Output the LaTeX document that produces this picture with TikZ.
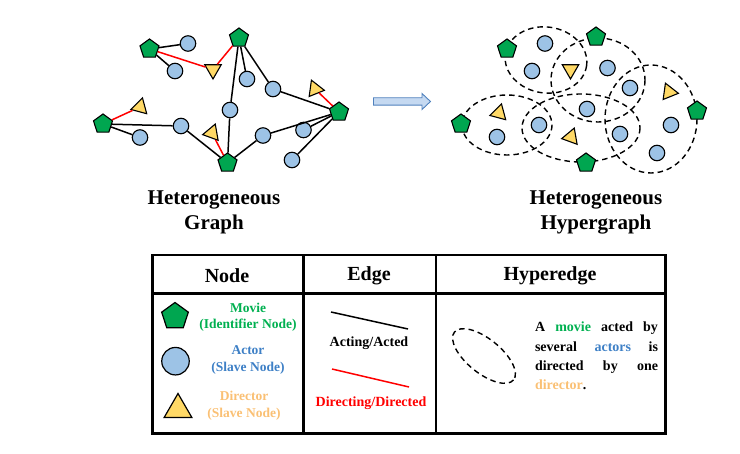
\documentclass[tikz,border=0pt]{standalone}
\usepackage{fontspec}
\setmainfont{Liberation Serif}
\usetikzlibrary{shapes.geometric}
\definecolor{mgreen}{RGB}{0,166,80}
\definecolor{tgreen}{RGB}{0,176,80}
\definecolor{cblue}{RGB}{157,195,230}
\definecolor{tblue}{RGB}{62,128,198}
\definecolor{tyel}{RGB}{255,217,102}
\definecolor{torange}{RGB}{250,192,116}
\definecolor{arrfill}{RGB}{197,217,241}
\definecolor{arrdraw}{RGB}{79,129,189}
\tikzset{
  movie/.style={regular polygon, regular polygon sides=5, draw=black, fill=mgreen, line width=1.1pt, minimum size=20pt, inner sep=0pt},
  actor/.style={circle, draw=black, fill=cblue, line width=1.1pt, minimum size=15.5pt, inner sep=0pt},
  director/.style={regular polygon, regular polygon sides=3, draw=black, fill=tyel, line width=1.1pt, minimum size=19pt, inner sep=0pt},
  acted/.style={draw=black, line width=1.5pt},
  directed/.style={draw=red, line width=1.5pt},
  hedge/.style={draw=black, dash pattern=on 5.5pt off 4pt, line width=1.4pt},
  ttl/.style={font=\bfseries\fontsize{21}{25}\selectfont, align=center},
  hdr/.style={font=\bfseries\fontsize{20}{24}\selectfont},
  lgd/.style={font=\bfseries\fontsize{13.5}{16.5}\selectfont, align=center},
  etxt/.style={font=\bfseries\fontsize{14}{17}\selectfont},
  tbl/.style={draw=black, line width=2.2pt},
}
\begin{document}
\begin{tikzpicture}[x=1pt,y=-1pt]
\useasboundingbox (0,0) rectangle (740,454);

% ---------------- Heterogeneous graph ----------------
\node[movie] (P1) at (149.5,49) {};
\node[actor] (C1) at (188,43.5) {};
\node[actor] (C2) at (175,71) {};
\node[director, rotate=180] (T1) at (213,69.5) {};
\node[movie] (P2) at (239,38) {};
\node[actor] (C3) at (247,79) {};
\node[actor] (C4) at (273,89) {};
\node[director, rotate=22] (T2) at (315,89) {};
\node[movie] (P3) at (339,112) {};
\node[actor] (C5) at (230,110) {};
\node[actor] (C6) at (181,126) {};
\node[director, rotate=-15] (T3) at (140,107) {};
\node[movie] (P4) at (103,124) {};
\node[actor] (C7) at (140,137.5) {};
\node[director, rotate=-20] (T4) at (212,133) {};
\node[movie] (P5) at (227.5,163) {};
\node[actor] (C8) at (263,135.5) {};
\node[actor] (C9) at (303.5,130) {};
\node[actor] (C10) at (292,160) {};

\draw[acted] (P1) -- (C1);
\draw[acted] (P1) -- (C2);
\draw[directed] (P1) -- (T1);
\draw[directed] (T1) -- (P2);
\draw[acted] (P2) -- (C3);
\draw[acted] (P2) -- (C4);
\draw[acted] (P2) -- (C5);
\draw[acted] (C4) -- (P3);
\draw[directed] (T2) -- (P3);
\draw[acted] (P3) -- (C8);
\draw[acted] (C8) -- (P5);
\draw[acted] (P3) -- (C9);
\draw[acted] (P3) -- (C10);
\draw[acted] (C5) -- (P5);
\draw[directed] (T4) -- (P5);
\draw[acted] (C6) -- (P5);
\draw[acted] (P4) -- (C6);
\draw[directed] (P4) -- (T3);
\draw[acted] (P4) -- (C7);

% ---------------- arrow ----------------
\draw[draw=arrdraw, fill=arrfill, line width=0.9pt]
  (373.5,97.8) -- (422,97.8) -- (422,93.5) -- (430.5,101.5) -- (422,109.5) -- (422,105.2) -- (373.5,105.2) -- cycle;

% ---------------- Heterogeneous hypergraph ----------------
\draw[hedge, rotate around={-8:(546,60)}] (546,60) ellipse [x radius=41, y radius=33];
\draw[hedge] (598,80) ellipse [x radius=47, y radius=42];
\draw[hedge] (651,119) ellipse [x radius=46, y radius=54];
\draw[hedge] (507,125) ellipse [x radius=45, y radius=30];
\draw[hedge] (581,128) ellipse [x radius=59, y radius=34];

\node[movie] (hP1) at (507,49) {};
\node[actor] (hC1) at (545,43.5) {};
\node[actor] (hC2) at (532,71) {};
\node[director, rotate=180] (hT1) at (570.5,69.5) {};
\node[movie] (hP2) at (596,37) {};
\node[actor] (hC3) at (607.5,68) {};
\node[actor] (hC4) at (630,88) {};
\node[director, rotate=22] (hT2) at (669,92) {};
\node[movie] (hP3) at (697,111) {};
\node[actor] (hC5) at (671,125) {};
\node[actor] (hC6) at (657,153) {};
\node[actor] (hC7) at (587,109) {};
\node[actor] (hC8) at (620,134) {};
\node[director, rotate=-20] (hT3) at (571,137) {};
\node[movie] (hP5) at (586,163) {};
\node[actor] (hC9) at (539,125) {};
\node[director, rotate=-15] (hT4) at (499,113) {};
\node[actor] (hC10) at (497,137) {};
\node[movie] (hP4) at (461,124) {};

% ---------------- titles ----------------
\node[ttl] (tl) at (214,212) {Heterogeneous\\Graph};
\node[ttl] (tr) at (596,212) {Heterogeneous\\Hypergraph};

% ---------------- table ----------------
\draw[tbl] (152.5,255) rectangle (665.5,433.5);
\draw[tbl] (152.5,293.5) -- (665.5,293.5);
\draw[tbl] (303.5,255) -- (303.5,433.5);
\draw[tbl] (436,255) -- (436,433.5);

\node[hdr] (hn) at (227,276) {Node};
\node[hdr] (he) at (369,276) {Edge};
\node[hdr] (hh) at (550,276) {Hyperedge};

\node[movie, minimum size=28pt, line width=1.2pt] (lP) at (175,316.5) {};
\node[actor, minimum size=27.5pt, line width=1.2pt] (lC) at (175.5,361.2) {};
\node[director, minimum size=32pt, line width=1.2pt] (lT) at (178,409.5) {};

\node[lgd, text=tgreen] (lPt) at (248,317.5) {Movie\\(Identifier Node)};
\node[lgd, text=tblue] (lCt) at (248,360) {Actor\\(Slave Node)};
\node[lgd, text=torange] (lTt) at (244,406) {Director\\(Slave Node)};

\coordinate (ea1) at (331,312);
\coordinate (ea2) at (408,329);
\draw[acted] (ea1) -- (ea2);
\node[etxt] (eat) at (369,343) {Acting/Acted};
\coordinate (ed1) at (332,369);
\coordinate (ed2) at (409,387);
\draw[directed] (ed1) -- (ed2);
\node[etxt, text=red] (edt) at (371,403) {Directing/Directed};

\draw[hedge, rotate around={-39:(484,356)}] (484,356) ellipse [x radius=38, y radius=17];

\node[font=\bfseries\fontsize{14}{19.3}\selectfont, align=left, inner sep=0pt] (htxt) at (596.5,356) {%
\makebox[123pt][s]{A \textcolor{tgreen}{movie} acted by}\\
\makebox[123pt][s]{several \textcolor{tblue}{actors} is}\\
\makebox[123pt][s]{directed by one}\\
\makebox[123pt][l]{\textcolor{torange}{director}.}};

\end{tikzpicture}
\end{document}
